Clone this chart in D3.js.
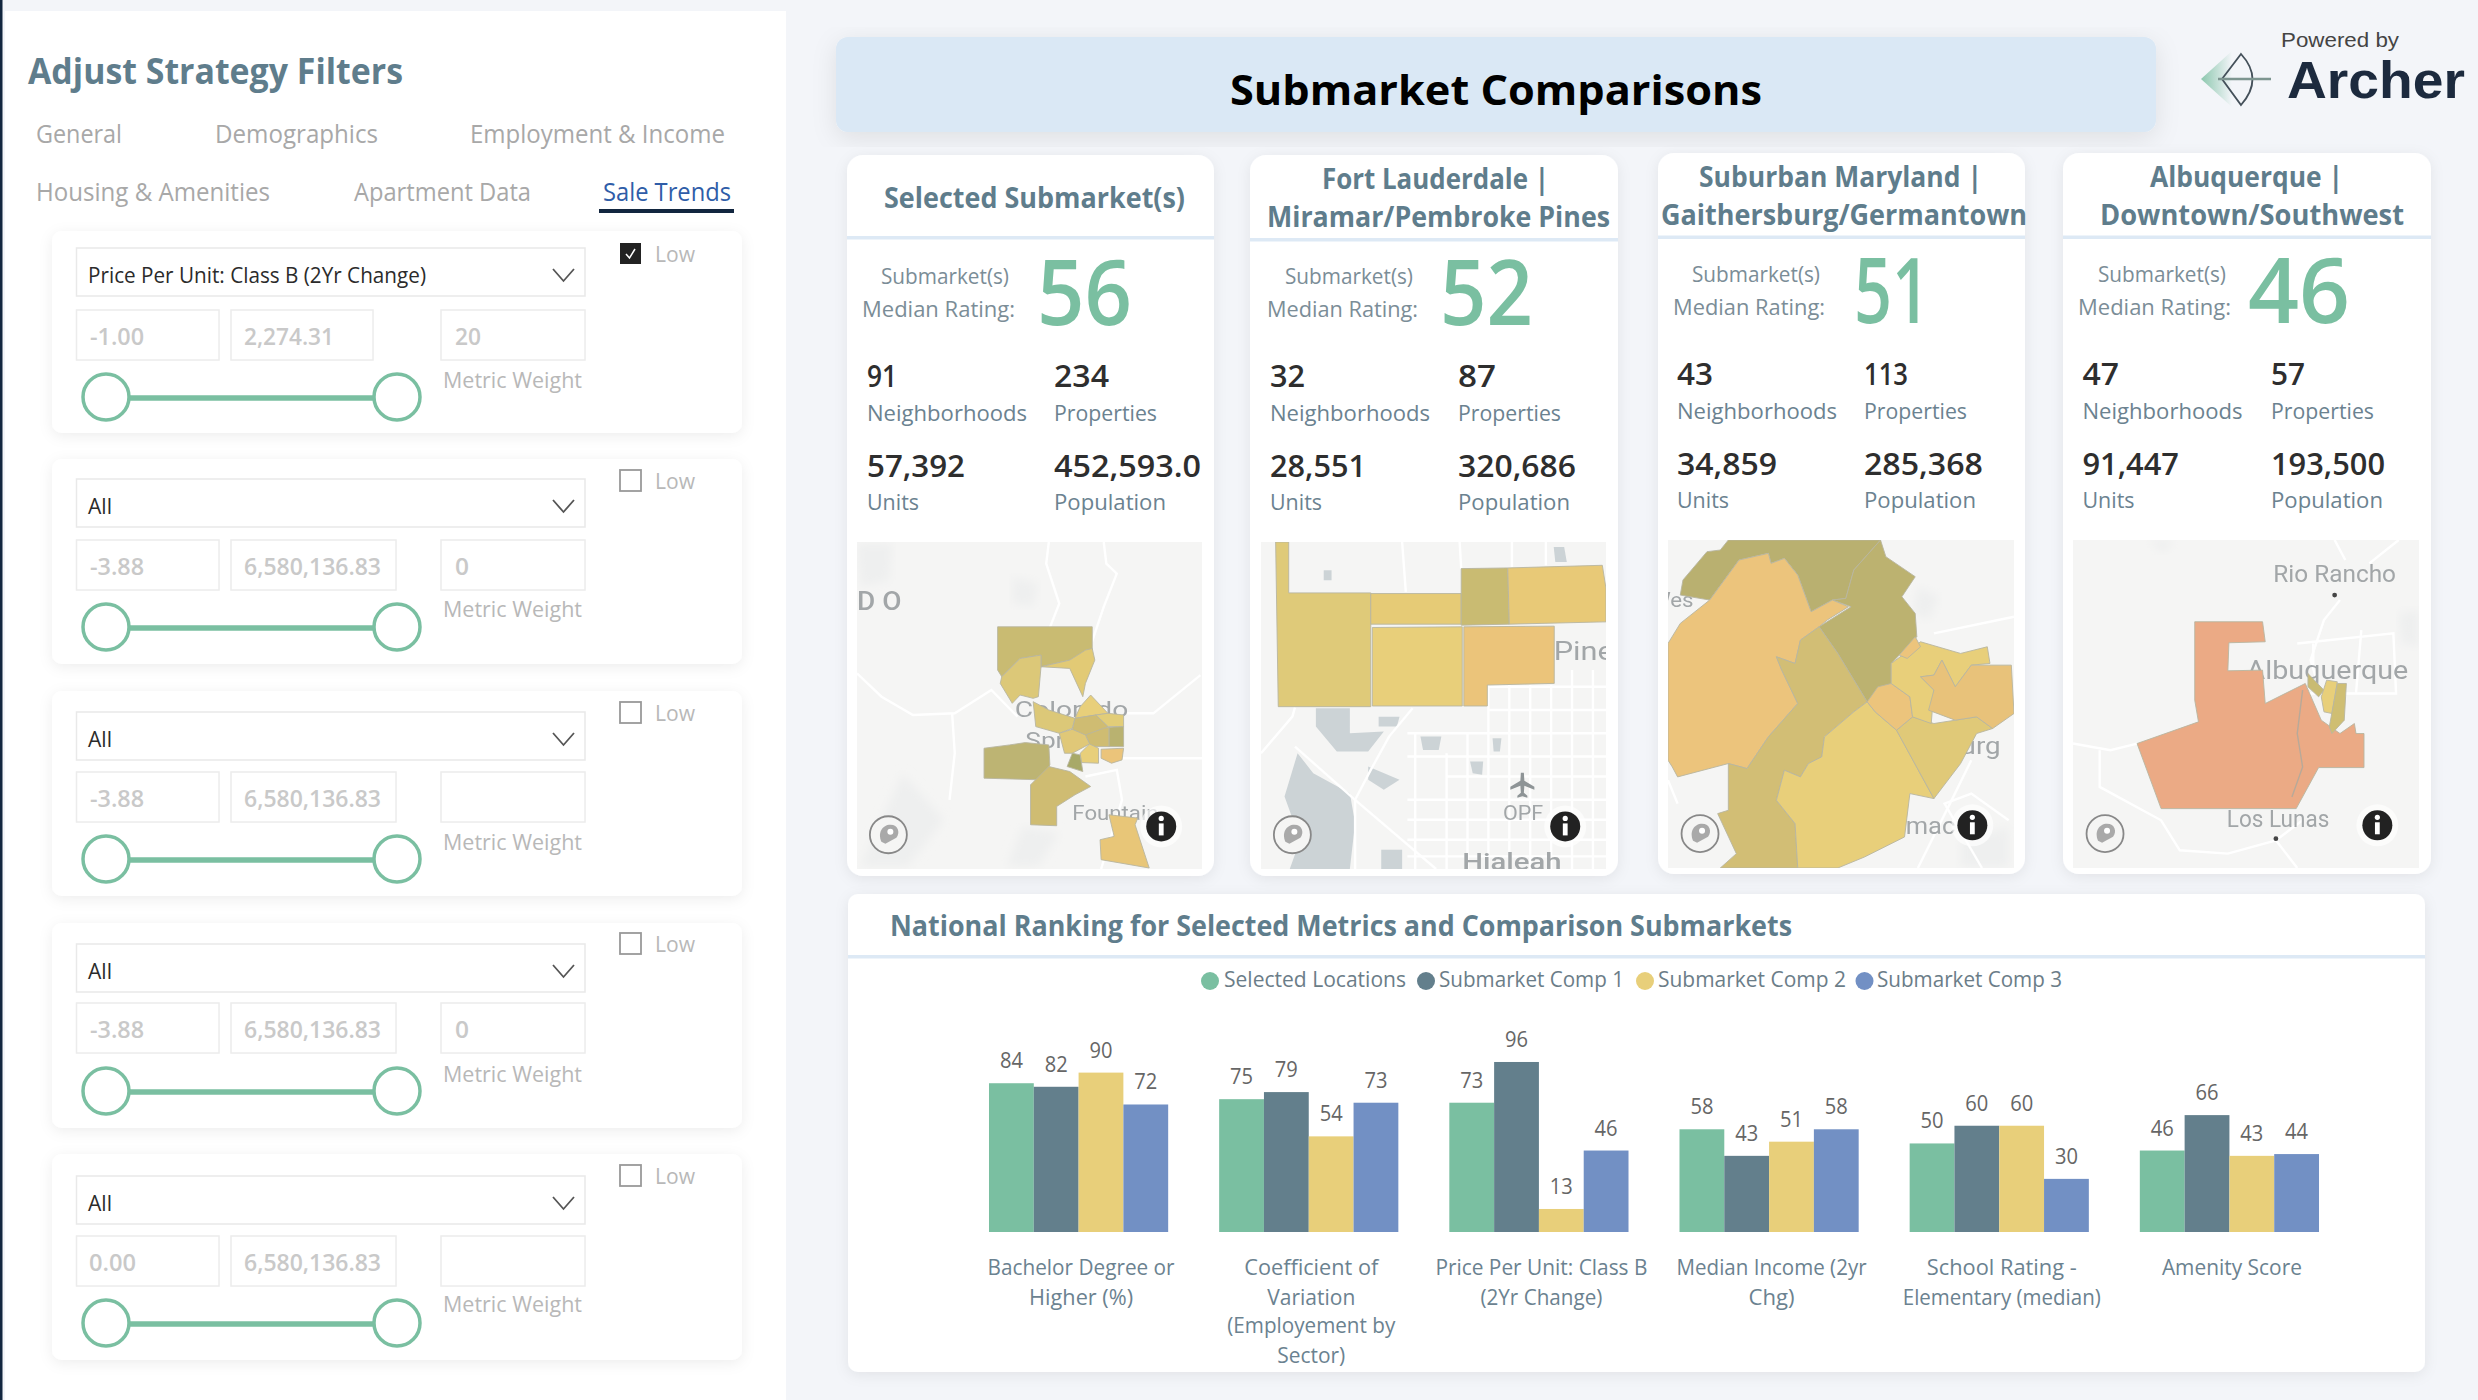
<!DOCTYPE html>
<html><head><meta charset="utf-8">
<script src="https://cdn.jsdelivr.net/npm/d3@7"></script>
<style>html,body{margin:0;padding:0;background:#f3f5f9;overflow:hidden}svg{display:block}text{font-family:"Open Sans",sans-serif}</style>
</head><body><div id="c"></div>
<script>
// ---------- chart data ----------
const categories=[["Bachelor Degree or","Higher (%)"],["Coefficient of","Variation","(Employement by","Sector)"],["Price Per Unit: Class B","(2Yr Change)"],["Median Income (2yr","Chg)"],["School Rating -","Elementary (median)"],["Amenity Score"]];
const seriesNames=["Selected Locations","Submarket Comp 1","Submarket Comp 2","Submarket Comp 3"];
const selectedLocations=[84,75,73,58,50,46];
const submarketComp1=[82,79,96,43,60,66];
const submarketComp2=[90,54,13,51,60,43];
const submarketComp3=[72,73,46,58,30,44];
const seriesColors=["#7abfa1","#637f8c","#e8cf7a","#7290c4"];
// ---------- KPI data ----------
const cardTitles=[["Selected Submarket(s)"],["Fort Lauderdale |","Miramar/Pembroke Pines"],["Suburban Maryland |","Gaithersburg/Germantown"],["Albuquerque |","Downtown/Southwest"]];
const ratings=[56,52,51,46];
const neighborhoods=["91","32","43","47"];
const properties=["234","87","113","57"];
const units=["57,392","28,551","34,859","91,447"];
const population=["452,593.0","320,686","285,368","193,500"];
// ---------- filter data ----------
const tabs=["General","Demographics","Employment & Income","Housing & Amenities","Apartment Data","Sale Trends"];
const filterMetric=["Price Per Unit: Class B (2Yr Change)","All","All","All","All"];
const filterMin=["-1.00","-3.88","-3.88","-3.88","0.00"];
const filterMax=["2,274.31","6,580,136.83","6,580,136.83","6,580,136.83","6,580,136.83"];
const filterWeight=["20","0","","0",""];
const filterLow=[true,false,false,false,false];

const svg=d3.select("#c").append("svg").attr("width",2478).attr("height",1400).attr("viewBox","0 0 2478 1400");
const defs=svg.append("defs");
const sh=(id,dy,sd,op)=>defs.append("filter").attr("id",id).attr("x","-10%").attr("y","-10%").attr("width","120%").attr("height","125%")
  .append("feDropShadow").attr("dx",0).attr("dy",dy).attr("stdDeviation",sd).attr("flood-color","#000").attr("flood-opacity",op);
sh("s1",3,7,.07); sh("s2",6,12,.09);
defs.append("filter").attr("id","soft").append("feGaussianBlur").attr("stdDeviation",.7);
defs.append("filter").attr("id","hazy").append("feGaussianBlur").attr("stdDeviation",5);
const ag=defs.append("linearGradient").attr("id","arrowG");
ag.append("stop").attr("offset",0).attr("stop-color","#7abfa1").attr("stop-opacity",.85);
ag.append("stop").attr("offset",1).attr("stop-color","#7abfa1").attr("stop-opacity",0);

function T(p,s,x,y,o={}){
  const t=p.append("text").attr("x",x).attr("y",y).text(s).attr("font-size",o.size||22).attr("fill",o.fill||"#333").attr("font-weight",o.w||400);
  if(o.anchor)t.attr("text-anchor",o.anchor);
  if(o.ff)t.style("font-family",o.ff);
  if(o.x1){t.attr("textLength",o.x1-x).attr("lengthAdjust","spacingAndGlyphs");}
  return t;
}
const R=(p,x,y,x1,y1,fill,o={})=>{const r=p.append("rect").attr("x",x).attr("y",y).attr("width",x1-x).attr("height",y1-y).attr("fill",fill);
  if(o.r)r.attr("rx",o.r); if(o.stroke)r.attr("stroke",o.stroke).attr("stroke-width",o.sw||1.5); if(o.f)r.attr("filter",`url(#${o.f})`); return r;};

R(svg,0,0,2478,1400,"#f3f5f9");
// ---------- sidebar ----------
const side=svg.append("g");
R(side,5,11,786,1400,"#fff");
R(side,0,0,2.5,1400,"#12263f");
T(side,"Adjust Strategy Filters",28,84,{size:35,w:700,fill:"#5f7d8c",x1:403});
const tabPos=[[36,143,122],[215,143,378],[470,143,725],[36,201,270],[354,201,531],[603,201,731]];
tabs.forEach((t,i)=>T(side,t,tabPos[i][0],tabPos[i][1],{size:25,fill:i==5?"#2f5da8":"#a8a8a8",x1:tabPos[i][2]}));
R(side,599,209,734,213,"#12263f");
const fTop=[231,459,691,923,1154],fBot=[433,664,896,1128,1360],fDd=[248,479,712,944,1176],fIn=[310,540,772,1003,1236],fHd=[397,627,859,1091,1323],fCk=[243,470,702,933,1165],fMw=[388,617,850,1082,1312];
const sliderX=d3.scaleLinear().domain([0,1]).range([106,397]);
filterMetric.forEach((m,i)=>{
  const g=side.append("g");
  R(g,52,fTop[i],742,fBot[i],"#fff",{r:10,f:"s1"});
  R(g,76.5,fDd[i],585,fDd[i]+48,"#fff",{stroke:"#e9e9e9"});
  T(g,m,88,fDd[i]+35,{size:22,fill:"#2b2b2b",x1:i==0?426:112});
  g.append("path").attr("d",d3.line()([[553,fDd[i]+21],[563.5,fDd[i]+33],[574,fDd[i]+21]])).attr("fill","none").attr("stroke","#555").attr("stroke-width",1.8);
  const maxR=i==0?373:396;
  R(g,76.5,fIn[i],219,fIn[i]+50,"#fff",{stroke:"#ececec"});
  R(g,231,fIn[i],maxR,fIn[i]+50,"#fff",{stroke:"#ececec"});
  R(g,441,fIn[i],585,fIn[i]+50,"#fff",{stroke:"#ececec"});
  const cf={size:24,w:600,fill:"#c9c9c9"};
  T(g,filterMin[i],filterMin[i]=="0.00"?89:90,fIn[i]+35,{...cf,x1:filterMin[i]=="0.00"?136:144});
  T(g,filterMax[i],244,fIn[i]+35,{...cf,x1:i==0?334:381});
  if(filterWeight[i])T(g,filterWeight[i],455,fIn[i]+35,{...cf,x1:filterWeight[i]=="0"?469:481});
  T(g,"Metric Weight",443,fMw[i],{size:22,fill:"#b8b8b8",x1:582});
  g.append("line").attr("x1",sliderX(0)).attr("x2",sliderX(1)).attr("y1",fHd[i]+1).attr("y2",fHd[i]+1).attr("stroke","#7abfa1").attr("stroke-width",5.5);
  [0,1].forEach(v=>g.append("circle").attr("cx",sliderX(v)).attr("cy",fHd[i]).attr("r",23).attr("fill","#fff").attr("stroke","#7abfa1").attr("stroke-width",3.5));
  if(filterLow[i]){
    R(g,620,fCk[i],641,fCk[i]+21,"#222",{});
    g.append("path").attr("d",d3.line()([[626,fCk[i]+11],[629.5,fCk[i]+15],[635,fCk[i]+6]])).attr("fill","none").attr("stroke","#fff").attr("stroke-width",1.5);
  } else R(g,620,fCk[i],641,fCk[i]+21,"#fff",{stroke:"#999",sw:1.8});
  T(g,"Low",655,fCk[i]+19,{size:21,fill:"#b8b8b8",x1:695});
});
// ---------- header ----------
R(svg,836,37,2156,132,"#dae8f5",{r:12,f:"s2"});
T(svg,"Submarket Comparisons",1230,105,{size:42,w:700,fill:"#000",x1:1762});
T(svg,"Powered by",2281,46.5,{size:21,fill:"#444",x1:2399,ff:"Liberation Sans"});
T(svg,"Archer",2287,98,{size:52,w:700,fill:"#1c2a3e",x1:2465,ff:"Liberation Sans"});
const logo=svg.append("g").attr("transform","translate(0,2)");
logo.append("path").attr("d","M2201,77 L2232,49 L2232,105 Z").attr("fill","url(#arrowG)");
logo.append("path").attr("d","M2241,52 L2222,77 L2241,103 Q2264,77 2241,52 Z").attr("fill","none").attr("stroke","#44505a").attr("stroke-width",1.8);
logo.append("line").attr("x1",2218).attr("x2",2271).attr("y1",77).attr("y2",77).attr("stroke","#7d9590").attr("stroke-width",2.5);
// ---------- KPI cards ----------
const cX=[[847,1214],[1250,1618],[1658,2025],[2063,2431]],cY=[[155,876],[155,876],[153,874],[153,874]],sepY=[236,238,235.5,235.5];
const titleX=[[[884,1185]],[[1322,1549],[1267,1610]],[[1699,1982],[1661,2027]],[[2150,2343],[2100,2404]]];
const titleBase=[[208],[189,227],[187,225],[187,225]];
const subX=[[881,1009],[1285,1413],[1692,1820],[2098,2226]],medX=[[862,1015],[1267,1418],[1673,1825],[2078,2231]],bigX=[[1037,1132],[1440,1533],[1854,1930],[2248,2350]];
const col1=[867,1270,1677,2082.5],col2=[1054,1458,1864,2271];
const dy=[0,0,-2,-2];
const unitW=[965,1366,1777,2179],propNumW=[1109,1496,1908,2305],popNumW=[1201,1576,1983,2385],nbW=[897,1305,1713,2119];
const numStyle={size:30,w:600,fill:"#2e2e2e"},lblStyle={size:22,fill:"#6b8290"};
ratings.forEach((r,i)=>{
  const g=svg.append("g"),d=dy[i];
  R(g,cX[i][0],cY[i][0],cX[i][1],cY[i][1],"#fff",{r:16,f:"s1"});
  R(g,cX[i][0],sepY[i],cX[i][1],sepY[i]+3.5,"#dde9f5");
  cardTitles[i].forEach((t,j)=>T(g,t,titleX[i][j][0],titleBase[i][j],{size:29,w:700,fill:"#5f7d8c",x1:titleX[i][j][1]}));
  T(g,"Submarket(s)",subX[i][0],284+d,{size:22,fill:"#7b8d97",x1:subX[i][1]});
  T(g,"Median Rating:",medX[i][0],317+d,{size:22,fill:"#7b8d97",x1:medX[i][1]});
  T(g,String(r),bigX[i][0],325+d,{size:91,w:600,fill:"#7abfa1",x1:bigX[i][1]});
  T(g,neighborhoods[i],col1[i],387+d,{...numStyle,x1:nbW[i]});
  T(g,properties[i],col2[i],387+d,{...numStyle,x1:propNumW[i]});
  T(g,"Neighborhoods",col1[i],420.5+d,{...lblStyle,x1:col1[i]+160});
  T(g,"Properties",col2[i],420.5+d,{...lblStyle,x1:col2[i]+103});
  T(g,units[i],col1[i],477+d,{...numStyle,x1:unitW[i]});
  T(g,population[i],col2[i],477+d,{...numStyle,x1:popNumW[i]});
  T(g,"Units",col1[i],509.5+d,{...lblStyle,x1:col1[i]+52});
  T(g,"Population",col2[i],509.5+d,{...lblStyle,x1:col2[i]+112});
});
// ---------- maps (shapes in a local map space, placed through scales) ----------
const mapBoxes=[[857,1202,542,869],[1261,1606,542,869],[1668,2014,540,868],[2073,2419,540,868]];
const mapDomains=[[33,693,65,1048],[805,1465,65,1048],[52,700,60,1043],[810,1458,60,1043]];
const mapFills=[
[["#c9bb72",[[302,320],[483,320],[483,390],[440,420],[385,440],[385,405],[345,415],[310,470],[302,450]]],
 ["#dcc878",[[345,415],[385,405],[385,440],[380,530],[370,535],[345,525],[330,550],[307,490],[310,470]]],
 ["#e2ca74",[[483,385],[488,420],[470,490],[465,530],[440,445],[385,440],[440,420],[470,390]]],
 ["#e8cf7a",[[480,525],[513,580],[490,585],[450,595],[460,560]]],
 ["#dcc878",[[370,545],[400,570],[450,595],[445,625],[420,640],[375,620]]],
 ["#e2cd78",[[490,585],[513,580],[543,585],[543,620],[513,620]]],
 ["#cfbc72",[[450,595],[490,585],[513,620],[480,655],[445,630]]],
 ["#b9b26f",[[515,622],[543,620],[543,680],[515,680]]],
 ["#cfbc72",[[505,625],[515,622],[515,680],[480,680],[470,645]]],
 ["#e0c878",[[420,640],[445,628],[470,645],[478,672],[445,700],[430,700]]],
 ["#e8cf7a",[[478,672],[495,685],[495,730],[462,728],[460,700]]],
 ["#ebc47a",[[500,688],[543,685],[540,720],[520,730],[500,715]]],
 ["#bdb473",[[276,685],[325,675],[355,668],[400,675],[402,735],[385,780],[276,775]]],
 ["#a8a968",[[445,700],[460,705],[465,755],[435,740]]],
 ["#cfbc72",[[365,795],[400,740],[440,755],[480,800],[450,825],[415,860],[415,918],[365,915]]],
 ["#e8c678",[[515,885],[570,895],[565,915],[592,1045],[500,1020],[498,960],[525,950]]]],
[["#dfca79",[[833,65],[858,65],[858,218],[1015,218],[1015,560],[838,560]]],
 ["#e6cb76",[[1015,220],[1188,220],[1188,312],[1015,312]]],
 ["#c9bb72",[[1188,145],[1277,143],[1280,312],[1188,315]]],
 ["#e8c977",[[1277,143],[1458,135],[1465,205],[1465,305],[1280,312]]],
 ["#e8cf7a",[[1018,322],[1190,320],[1190,558],[1018,558]]],
 ["#ebc47a",[[1193,320],[1366,318],[1366,490],[1238,495],[1238,558],[1193,558]]]],
[["#b9b06f",[[165,60],[450,60],[400,150],[385,235],[360,240],[320,275],[295,165],[270,115],[245,130],[240,100],[185,120],[130,240],[75,225],[80,180],[125,95],[150,90]]],
 ["#bcb26f",[[450,60],[460,110],[515,170],[490,230],[515,280],[518,350],[470,430],[470,490],[425,545],[370,400],[335,320],[395,260],[360,240],[385,235],[400,150]]],
 ["#ecc47c",[[185,120],[240,100],[245,130],[270,115],[295,165],[320,275],[360,240],[390,260],[350,300],[335,320],[300,360],[290,430],[255,410],[265,450],[295,550],[240,650],[200,745],[165,730],[70,770],[60,740],[52,720],[52,370],[75,310],[130,240]]],
 ["#d2be74",[[335,320],[370,400],[425,545],[400,575],[345,650],[340,710],[315,730],[300,770],[270,750],[255,840],[290,910],[295,1043],[150,1043],[180,1000],[145,880],[165,870],[165,730],[200,745],[240,650],[295,550],[265,450],[255,410],[290,430],[300,360]]],
 ["#e8cf7a",[[400,575],[425,545],[440,575],[480,630],[550,835],[505,820],[495,950],[420,1010],[370,1043],[295,1043],[290,910],[255,840],[270,750],[300,770],[315,730],[340,710],[345,650]]],
 ["#e0c978",[[480,630],[510,590],[550,610],[590,600],[630,590],[660,625],[630,640],[600,730],[550,835]]],
 ["#ecc47c",[[425,545],[445,500],[470,490],[505,530],[510,590],[480,630],[440,575]]],
 ["#e8cf7a",[[470,430],[525,365],[600,400],[650,380],[655,430],[620,435],[590,500],[565,420],[550,465],[525,470],[550,510],[545,610],[510,590],[505,530],[470,490]]],
 ["#e8c27a",[[620,435],[695,435],[700,580],[660,625],[630,590],[590,600],[540,570],[550,510],[525,470],[550,465],[565,420],[590,500]]],
 ["#ecc47c",[[515,350],[525,380],[500,415],[485,405]]]],
[["#ebaa85",[[1038,305],[1165,305],[1170,365],[1102,368],[1100,452],[1165,450],[1170,550],[1245,490],[1275,600],[1310,640],[1337,610],[1340,640],[1355,640],[1355,742],[1270,742],[1228,865],[975,865],[930,670],[1045,605],[1038,540]]],
 ["#c9bb72",[[1250,460],[1280,510],[1270,530],[1250,500]]],
 ["#e8cf7a",[[1285,480],[1305,485],[1295,580],[1280,575],[1275,530]]],
 ["#cfbe72",[[1305,490],[1322,490],[1318,600],[1295,640],[1290,620]]]]];
const mapRoads=[
 [[[400,65],[395,130],[420,250],[400,330]],[[505,65],[510,130],[530,160],[505,260],[475,400]],[[33,460],[80,530],[140,585],[220,580],[290,510],[340,590]],[[215,580],[220,700],[210,840]],[[550,580],[600,580],[690,465]],[[540,715],[693,715]],[[470,770],[530,750],[540,840],[500,1048]]],
 [[[1075,65],[1082,215]],[[1185,65],[1188,145]],[[1285,65],[1285,140]],[[1350,65],[1350,135]],[[805,700],[865,590],[870,562]],[[1095,565],[1050,650],[1015,750],[985,840],[985,1048]],[[870,680],[985,840],[1140,1048]],[[1085,640],[1465,640]],[[1085,710],[1465,710]],[[1160,770],[1465,770]],[[1085,840],[1465,840]],[[1085,900],[1465,900]],[[1085,960],[1465,960]],[[1085,1010],[1465,1010]],[[1100,640],[1100,1048]],[[1160,700],[1160,1048]],[[1200,640],[1200,1048]],[[1240,495],[1240,1048]],[[1280,495],[1280,1048]],[[1320,495],[1320,1048]],[[1360,495],[1360,1048]],[[1400,450],[1400,1048]],[[1440,450],[1440,1048]],[[1240,500],[1465,500]],[[1240,570],[1465,570]]],
 [[[620,720],[580,850],[520,1043]],[[700,290],[550,340]],[[690,900],[620,820],[570,850],[640,1043]],[[52,780],[70,850]]],
 [[[1300,60],[1320,120]],[[1420,60],[1365,130]],[[1310,240],[1280,300],[1255,420],[1270,500]],[[1230,370],[1410,340],[1415,520],[1230,520]],[[1260,370],[1260,440]],[[1350,330],[1340,520]],[[810,670],[880,690],[930,670]],[[860,690],[860,800],[975,900],[1010,990],[1100,1000],[1190,960],[1240,900]],[[1230,1043],[1190,960]]]];
const mapGrey=[[],[
 [[910,565],[975,565],[975,640],[1040,635],[1010,695],[950,695],[910,620]],[[875,700],[905,760],[975,820],[985,910],[975,1048],[860,1048],[880,960],[850,830]],[[1030,590],[1070,590],[1065,620],[1030,620]],[[1010,740],[1070,780],[1040,810],[1010,780]],[[1035,990],[1075,990],[1075,1048],[1035,1048]],[[1110,650],[1150,650],[1145,690],[1115,690]],[[1205,725],[1230,725],[1228,765],[1210,760]],[[1248,655],[1265,655],[1262,695],[1250,695]],[[1365,80],[1385,80],[1390,125],[1368,125]],[[925,150],[940,150],[940,180],[925,180]]],[],[]];
const mapHaze=[[[[33,70],[100,70],[95,180],[40,200]],[[120,760],[200,900],[130,1040],[40,1040]],[[330,170],[380,190],[370,260],[330,250]],[[350,920],[420,940],[380,1040],[320,1040]]],[],[[[520,200],[560,230],[540,300],[510,280]],[[600,960],[690,920],[690,1040],[600,1040]]],[[[1420,280],[1458,270],[1458,380],[1425,370]],[[950,60],[1000,60],[980,100]]]];
const mapLabels=[[["D O",33,270,118,52],["Fountain",445,900,610,40],["Colorado",335,590,552,44],["Spr",355,685,430,44]],
 [["Pine",1365,420,1480,52],["OPF",1268,900,1345,42],["Hialeah",1190,1050,1380,48]],
 [["Wes",20,262,100,40],["urg",600,700,675,46],["omac",470,940,590,46]],
 [["Rio Rancho",1185,185,1415,46],["Albuquerque",1135,478,1438,52],["Los Lunas",1098,920,1290,46]]];
const mapDots=[[],[],[],[[1300,225],[1190,955]]];
const infoPos=[[582,855],[582,855],[570,855],[570,855]];
mapBoxes.forEach((b,i)=>{
  const d=mapDomains[i];
  const mx=d3.scaleLinear().domain([d[0],d[1]]).range([b[0],b[1]]),my=d3.scaleLinear().domain([d[2],d[3]]).range([b[2],b[3]]);
  const ln=d3.line().x(p=>mx(p[0])).y(p=>my(p[1]));
  const cid="mc"+i;
  defs.append("clipPath").attr("id",cid).append("rect").attr("x",b[0]).attr("y",b[2]).attr("width",b[1]-b[0]).attr("height",b[3]-b[2]);
  const g=svg.append("g").attr("clip-path",`url(#${cid})`);
  const inner=g.append("g").attr("filter","url(#soft)");
  R(inner,b[0],b[2],b[1],b[3],"#f5f5f4");
  mapHaze[i].forEach(s=>inner.append("path").attr("d",ln(s)+"Z").attr("fill","#eeefef").attr("filter","url(#hazy)"));
  mapGrey[i].forEach(s=>inner.append("path").attr("d",ln(s)+"Z").attr("fill","#ccd3d6"));
  mapRoads[i].forEach(s=>inner.append("path").attr("d",ln(s)).attr("fill","none").attr("stroke","#fff").attr("stroke-width",2.4));
  if(i==1)inner.append("path").attr("transform",`translate(${mx(1305)},${my(795)})`).attr("d","M-1.5,-12 L1.5,-12 L2,-4 L12,2 L12,5 L2,1 L1.5,8 L5,11 L5,13 L0,11.5 L-5,13 L-5,11 L-1.5,8 L-2,1 L-12,5 L-12,2 L-2,-4 Z").attr("fill","#8e9496");
  mapLabels[i].forEach(l=>{
    const t=T(inner,l[0],mx(l[1]),my(l[2]),{size:l[4]/2,fill:"#a2a6a8",x1:mx(l[3]),ff:"Roboto"});
    if(l[0]=="Hialeah"||l[0]=="D O")t.attr("font-weight",500);
  });
  mapFills[i].forEach(([c,s])=>inner.append("path").attr("d",ln(s)+"Z").attr("fill",c).attr("stroke","#b8b5a0").attr("stroke-width",.9));
  if(i==3)inner.append("path").attr("d",ln([[1240,510],[1230,640],[1240,740],[1220,830]])).attr("fill","none").attr("stroke","#b8a999").attr("stroke-width",1.4);
  mapDots[i].forEach(p=>inner.append("circle").attr("cx",mx(p[0])).attr("cy",my(p[1])).attr("r",2.4).attr("fill","#444"));
  const ci=svg.append("g").attr("transform",`translate(${mx(d[0]+60)},${my(d[2]+880)})`);
  ci.append("circle").attr("r",18.5).attr("fill","#f5f5f4").attr("stroke","#888").attr("stroke-width",1.8);
  ci.append("path").attr("d","M-7,7 C-11,-2 -6,-10 2,-10 C10,-10 12,-2 8,3 L-3,9 Z").attr("fill","#a9a9a9");
  ci.append("circle").attr("cx",2).attr("cy",-3).attr("r",3).attr("fill","#fff");
  const ii=svg.append("g").attr("transform",`translate(${mx(d[0]+infoPos[i][0])},${my(d[2]+infoPos[i][1])})`);
  ii.append("circle").attr("r",21).attr("fill","#fff").attr("opacity",.65);
  ii.append("circle").attr("r",15).attr("fill","#222");
  ii.append("circle").attr("cy",-8).attr("r",2.6).attr("fill","#fff");
  R(ii,-2.4,-3,2.4,9,"#fff");
});
// ---------- ranking chart ----------
R(svg,848,894,2425,1372,"#fff",{r:10,f:"s1"});
R(svg,848,955,2425,958.5,"#dde9f5");
T(svg,"National Ranking for Selected Metrics and Comparison Submarkets",890,936,{size:28,w:700,fill:"#5f7d8c",x1:1792});
const legC=[1210,1426,1645,1864.5],legT=[[1224,1406],[1439,1624],[1658,1846],[1877,2062]];
seriesNames.forEach((n,i)=>{
  svg.append("circle").attr("cx",legC[i]).attr("cy",981).attr("r",9).attr("fill",seriesColors[i]);
  T(svg,n,legT[i][0],987,{size:21,fill:"#6b7d88",x1:legT[i][1]});
});
const catKeys=categories.map(c=>c.join(" "));
const series=[selectedLocations,submarketComp1,submarketComp2,submarketComp3];
const x0=d3.scaleBand().domain(catKeys).range([963.5,2344.5]).paddingInner(.2215).paddingOuter(.11075);
const x1=d3.scaleBand().domain(d3.range(4)).range([0,x0.bandwidth()]);
const y=d3.scaleLinear().domain([0,100]).range([1232,1054.9]);
const plot=svg.append("g");
const groups=plot.selectAll("g").data(catKeys).join("g").attr("transform",d=>`translate(${x0(d)},0)`);
groups.each(function(k,ci){
  const g=d3.select(this);
  series.forEach((s,si)=>{
    g.append("rect").attr("x",x1(si)).attr("width",x1.bandwidth()).attr("y",y(s[ci])).attr("height",y(0)-y(s[ci])).attr("fill",seriesColors[si]);
    g.append("text").attr("x",x1(si)+x1.bandwidth()/2).attr("y",y(s[ci])-15).attr("text-anchor","middle").attr("font-size",22).attr("fill","#666").text(s[ci]).attr("textLength",23).attr("lengthAdjust","spacingAndGlyphs");
  });
});
const catW=[[187,104],[134,88,168,68],[212,122],[190,46],[150,198],[140]];
const lineY=[1275,1305,1333,1363];
categories.forEach((c,i)=>c.forEach((l,j)=>{
  const cx=x0(catKeys[i])+x0.bandwidth()/2+2.5;
  T(svg,l,cx-catW[i][j]/2,lineY[j],{size:22,fill:"#6b8290",x1:cx+catW[i][j]/2});
}));
</script></body></html>
